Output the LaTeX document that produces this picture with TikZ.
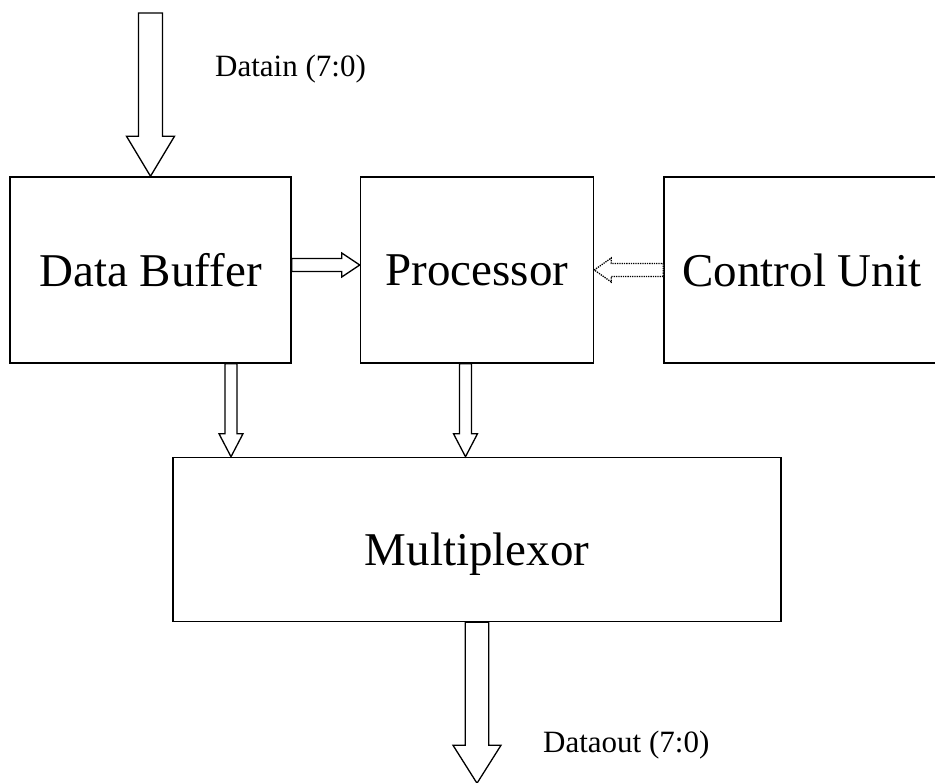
\documentclass[tikz,border=0pt]{standalone}
\usepackage{fontspec}
\setmainfont{Liberation Serif}
\usetikzlibrary{positioning, calc}
\tikzstyle{block}=[rectangle, align=center, draw=black, line width=1.5pt, font=\dimb]
\tikzstyle{busarrow}=[draw=black, line width=1.3pt, fill=white]
\tikzstyle{ctrlarrow}=[busarrow, densely dotted]
\tikzstyle{buslabel}=[anchor=base west, inner sep=0pt, font=\dimt]
\newcommand{\dimb}{\fontsize{47}{50}\selectfont}
\newcommand{\dimt}{\fontsize{31}{34}\selectfont}
% hollow arrow: [style]{from}{to}{shaft half}{head half}{head length}
\newcommand{\fatarrow}[6][busarrow]{%
  \coordinate (hb) at ($(#3)!#6!(#2)$);
  \draw [#1] ($(#2)!#4!90:(#3)$) -- ($(hb)!#4!90:(#3)$) -- ($(hb)!#5!90:(#3)$) -- (#3)
    -- ($(hb)!#5!-90:(#3)$) -- ($(hb)!#4!-90:(#3)$) -- ($(#2)!#4!-90:(#3)$) -- cycle;
}

\begin{document}
\begin{tikzpicture}[x=1pt, y=-1pt, auto]
    \useasboundingbox (0,0) rectangle (935,783);
    \clip (0,0) rectangle (935,783);

    \node [block, minimum width=281pt, minimum height=186pt] (buf) at (150.5,270) {Data Buffer};
    \node [block, right=68pt of buf, minimum width=233pt, minimum height=186pt] (proc) {Processor};
    % runs off the right edge of the page
    \node [block, right=69pt of proc, minimum width=276pt, minimum height=186pt] (ctrl) {Control Unit};
    \node [block, below=93pt of buf.south west, anchor=north west, xshift=163pt, minimum width=608pt, minimum height=164pt, text height=52pt, text depth=0pt] (mux) {Multiplexor};

    \coordinate (inbeg) at (150.5,13);
    \node [buslabel] (din) at (215,77) {Datain (7:0)};
    \fatarrow{inbeg}{buf.north}{12pt}{24pt}{40pt}

    \coordinate (bpbeg) at ([yshift=5pt]buf.east);
    \coordinate (bpend) at ([yshift=5pt]proc.west);
    \fatarrow{bpbeg}{bpend}{6.5pt}{12pt}{18pt}
    \fatarrow[ctrlarrow]{ctrl.west}{proc.east}{6.5pt}{12pt}{17pt}

    \coordinate (bmbeg) at ([xshift=80.5pt]buf.south);
    \coordinate (bmend) at (bmbeg |- mux.north);
    \fatarrow{bmbeg}{bmend}{6pt}{12pt}{23pt}
    \coordinate (pmbeg) at ([xshift=-11.5pt]proc.south);
    \coordinate (pmend) at (pmbeg |- mux.north);
    \fatarrow{pmbeg}{pmend}{6pt}{12pt}{23pt}

    \coordinate (outend) at ([yshift=-161pt]mux.south);
    \fatarrow{mux.south}{outend}{11.7pt}{24pt}{38pt}
    \node [buslabel] (dout) at (543,752) {Dataout (7:0)};
\end{tikzpicture}
\end{document}
